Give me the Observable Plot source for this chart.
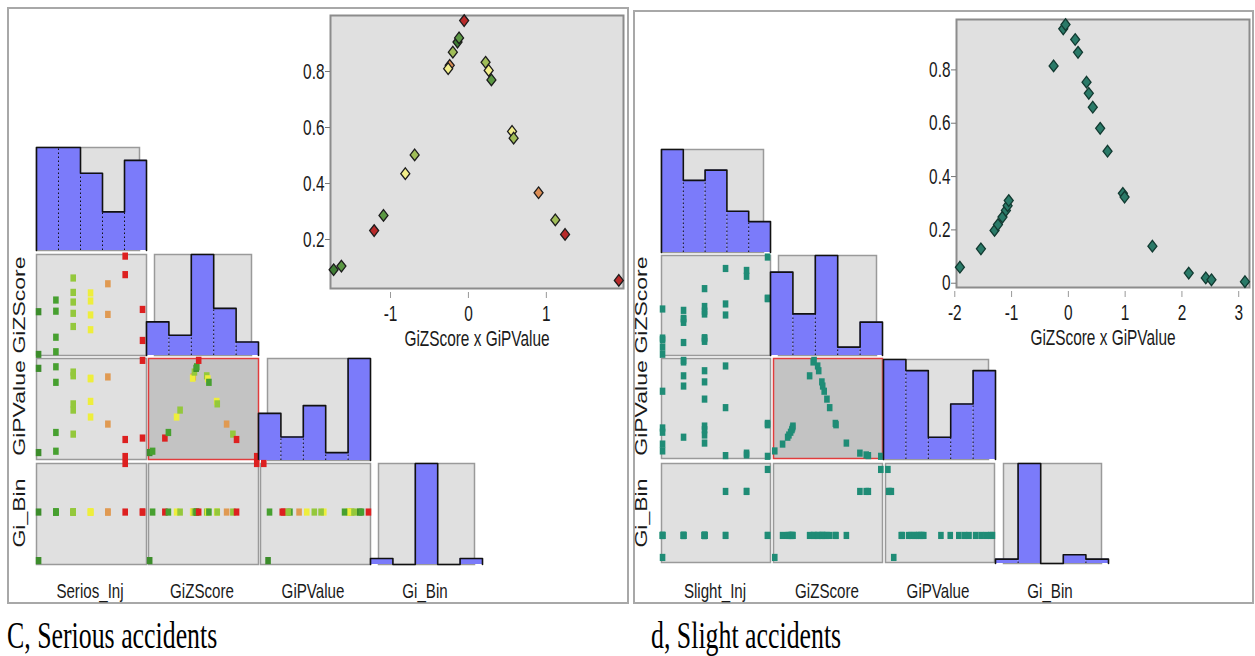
<!DOCTYPE html>
<html><head><meta charset="utf-8">
<script src="https://cdn.jsdelivr.net/npm/d3@7"></script>
<script src="https://cdn.jsdelivr.net/npm/@observablehq/plot@0.6"></script>
<style>
body{margin:0;background:#fff;overflow:hidden;}
#root{position:relative;width:1255px;height:656px;overflow:hidden;font-family:"Liberation Sans",Arial,sans-serif;background:#fff;}
.panel{position:absolute;border:2px solid #a8a8a8;box-sizing:border-box;}
.lab{position:absolute;white-space:nowrap;color:#1a1a1a;line-height:1;font-family:"Liberation Sans",Arial,sans-serif;}
.cap{position:absolute;white-space:nowrap;font-family:"Liberation Serif","Times New Roman",serif;font-size:38px;line-height:38px;transform-origin:0 0;transform:scaleX(0.68);color:#000;}
</style></head><body><div id="root"></div>
<script>
// ---------- DATA: panel C, serious accidents ----------
const seriousZ   = [-1.73,-1.63,-1.21,-1.09,-0.81,-0.69,-0.24,-0.26,-0.20,-0.14,-0.12,0.22,0.26,0.295,0.56,0.58,0.90,1.115,1.24,1.93,-0.055];
const seriousP   = [0.092,0.105,0.232,0.286,0.435,0.502,0.822,0.810,0.869,0.905,0.920,0.833,0.804,0.770,0.586,0.562,0.367,0.270,0.218,0.054,0.982];
const seriousInj = [0,1,6,1,3,2,4,3,2,0,1,2,3,1,3,2,4,2,5,5,6];
const seriousBin = [-1,0,0,0,0,0,0,0,0,0,0,0,0,0,0,0,0,0,0,1,0];
const seriousHistInj = [8,8,6,3,7];
const seriousHistZ   = [5,3,15,7,2];
const seriousHistP   = [6,3,7,1,13];
const seriousHistBin = [1,0,17,0,1];

// ---------- DATA: panel d, slight accidents ----------
const slightZ   = [-1.91,-1.54,-1.30,-1.24,-1.16,-1.10,-1.07,-1.05,-0.26,-0.09,-0.05,0.12,0.17,0.32,0.36,0.43,0.56,0.69,0.96,0.99,1.48,2.12,2.42,2.52,3.11];
const slightP   = [0.060,0.129,0.198,0.220,0.248,0.273,0.291,0.310,0.815,0.954,0.970,0.914,0.866,0.754,0.712,0.660,0.581,0.495,0.337,0.323,0.139,0.038,0.020,0.013,0.006];
const slightInj = [0,0,1,2,0,2,0,2,1,1,1,3,2,2,1,0,2,3,5,5,2,4,4,3,5];
const slightBin = [-1,0,0,0,0,0,0,0,0,0,0,0,0,0,0,0,0,0,0,0,0,2,2,2,3];
const slightHistInj = [10,7,8,4,3];
const slightHistZ   = [10,5,12,1,4];
const slightHistP   = [9,8,2,5,8];
const slightHistBin = [1,23,0,2,1];

const varLabelsC = ["Serios_Inj","GiZScore","GiPValue","Gi_Bin"];
const varLabelsD = ["Slight_Inj","GiZScore","GiPValue","Gi_Bin"];
const scatterTitle = "GiZScore x GiPValue";
const captionC = "C, Serious accidents";
const captionD = "d, Slight accidents";

// colours by injury-count level (panel C)
const squareColors  = ["#3d8d2c","#47a030","#94c83c","#eeee3c","#e09a52","#dd2020","#dd2020"];
const diamondColors = ["#3f7d34","#5b9843","#a0bd58","#f2ee8a","#dc8e56","#b82a2a","#b82a2a"];
const tealSquare = "#1f8c76", tealDiamond = "#2a7a68";

const serious = seriousZ.map((z,i)=>({z, p:seriousP[i], inj:seriousInj[i], bin:seriousBin[i]}));
const slight  = slightZ.map((z,i)=>({z, p:slightP[i], inj:slightInj[i], bin:slightBin[i]}));

// custom marker shapes (tall diamond, tall square)
const tallDiamond = {draw(ctx){ctx.moveTo(0,-5.8);ctx.lineTo(4.5,0);ctx.lineTo(0,5.8);ctx.lineTo(-4.5,0);ctx.closePath();}};
const tallSquare  = {draw(ctx){ctx.rect(-2.8,-3.6,5.6,7.2);}};

const SQ = 0.72;
const root = document.getElementById("root");
function put(node, left, top){node.style.position="absolute";node.style.left=left+"px";node.style.top=top+"px";root.appendChild(node);return node;}
function panel(l,t,w,h){const d=document.createElement("div");d.className="panel";d.style.left=l+"px";d.style.top=t+"px";d.style.width=w+"px";d.style.height=h+"px";root.appendChild(d);}

const PAD = 6;
function scatterCell(data, xk, yk, xDom, yDom, fillFn, box, highlight){
  const [x0,y0,x1,y1] = box;
  const svg = Plot.plot({
    width:x1-x0+2*PAD, height:y1-y0+2*PAD, margin:PAD,
    x:{domain:xDom, axis:null}, y:{domain:yDom, axis:null}, color:{type:"identity"},
    style:{background:"transparent", overflow:"visible"},
    marks:[
      Plot.frame({fill: highlight ? "#c3c3c3" : "#e0e0e0", stroke: highlight ? "#e03c3c" : "#9a9a9a", strokeWidth:1.5}),
      Plot.dot(data,{x:xk, y:yk, symbol:tallSquare, fill:fillFn})
    ]
  });
  put(svg, x0-PAD, y0-PAD);
}
function histCell(counts, box, insetL, insetR){
  const [x0,y0,x1,y1] = box;
  const n = counts.length, max = d3.max(counts);
  const bins = counts.map((c,i)=>({i, c}));
  const outline = [{x:0,y:0}, ...counts.flatMap((c,i)=>[{x:i,y:c},{x:i+1,y:c}]), {x:n,y:0}];
  const seps = d3.range(1,n).map(i=>({x:i, y:Math.min(counts[i-1],counts[i])})).filter(d=>d.y>0);
  const svg = Plot.plot({
    width:x1-x0+2*PAD, height:y1-y0+2*PAD, margin:PAD,
    x:{domain:[0,n], axis:null}, y:{domain:[0,max], axis:null},
    style:{background:"transparent", overflow:"visible"},
    marks:[
      Plot.frame({fill:"#e0e0e0", stroke:"#9a9a9a", strokeWidth:1.5, insetLeft:insetL, insetRight:insetR}),
      Plot.rectY(bins,{x1:"i", x2:d=>d.i+1, y:"c", fill:"#7b7bfa", inset:0}),
      Plot.ruleX(seps,{x:"x", y1:0, y2:"y", stroke:"#111", strokeDasharray:"1.5,2.5", strokeWidth:1}),
      Plot.line(outline,{x:"x", y:"y", stroke:"#111", strokeWidth:1.6})
    ]
  });
  put(svg, x0-PAD, y0-PAD);
}
function bigScatter(data, box, xDom, yDom, xTicks, yTicks, fillFn, strokeCol){
  const [x0,y0,x1,y1] = box;
  const ML=44, MT=6, MR=8, MB=70;
  const svg = Plot.plot({
    width:x1-x0+ML+MR, height:y1-y0+MT+MB, marginLeft:ML, marginTop:MT, marginRight:MR, marginBottom:MB,
    x:{domain:xDom}, y:{domain:yDom}, color:{type:"identity"},
    style:{background:"transparent", overflow:"visible", fontFamily:"Liberation Sans, Arial, sans-serif", fontSize:"22px", color:"#1a1a1a"},
    marks:[
      Plot.frame({fill:"#e0e0e0", stroke:"#8c8c8c", strokeWidth:2}),
      Plot.dot(data,{x:"z", y:"p", symbol:tallDiamond, fill:fillFn, stroke:strokeCol, strokeWidth:1.3}),
      Plot.axisY({ticks:yTicks, tickSize:5, tickPadding:1, fontSize:22, tickFormat:d=>String(d), stroke:"#777", fill:"#1a1a1a", label:null}),
      Plot.axisX({ticks:xTicks, tickSize:6, tickPadding:7, dy:4, fontSize:22, tickFormat:d=>String(d), stroke:"#999", fill:"#1a1a1a", label:null}),
      Plot.text([scatterTitle],{text:d=>d, frameAnchor:"bottom", dy:57, fontSize:22, fill:"#1a1a1a"})
    ]
  });
  svg.dataset.sq = "0.7";
  put(svg, x0-ML, y0-MT);
}
function hLabel(t, cx, cy, size){const d=document.createElement("div");d.className="lab";d.textContent=t;d.style.fontSize=size+"px";d.style.left=cx+"px";d.style.top=cy+"px";d.style.transform=`translate(-50%,-50%) scaleX(${SQ})`;root.appendChild(d);}
function vLabel(t, cx, cy, size){const d=document.createElement("div");d.className="lab";d.textContent=t;d.style.fontSize=size+"px";d.style.left=cx+"px";d.style.top=cy+"px";d.style.transform=`translate(-50%,-50%) rotate(-90deg) scaleY(${SQ})`;root.appendChild(d);}
function caption(t, l, top){const d=document.createElement("div");d.className="cap";d.textContent=t;d.style.left=l+"px";d.style.top=top+"px";root.appendChild(d);}

// frames
panel(7,7,622,597);
panel(633,10,621,594);

// ---------- Panel C ----------
{
  const zD=[-1.77,1.99], pD=[0.025,1.0], iD=[-0.12,6.23], bD=[-1.08,1];
  const sq = d=>squareColors[d.inj];
  bigScatter(serious,[330,15,623,288],zD,pD,[-1,0,1],[0.2,0.4,0.6,0.8],d=>diamondColors[d.inj],"#1c1c1c");
  histCell(seriousHistInj,[36,147,146,250],0,7);
  scatterCell(serious,"inj","z",iD,zD,sq,[36,254,146,355],false);
  histCell(seriousHistZ,[146,254,258,355],8,7);
  scatterCell(serious,"inj","p",iD,pD,sq,[36,358,146,459],false);
  scatterCell(serious,"z","p",zD,pD,sq,[148,358,258,459],true);
  histCell(seriousHistP,[258,358,370,460],9,1);
  scatterCell(serious,"inj","bin",iD,bD,sq,[36,463,146,564],false);
  scatterCell(serious,"z","bin",zD,bD,sq,[148,463,258,564],false);
  scatterCell(serious,"p","bin",pD,bD,sq,[260,463,370,564],false);
  histCell(seriousHistBin,[370,463,482,564],8,8);
  [90,202,313,425].forEach((x,i)=>hLabel(varLabelsC[i],x,590,21));
  [305,408,513].forEach((y,i)=>vLabel(varLabelsC[i+1],20,y,23));
  caption(captionC,7,616);
}
// ---------- Panel d ----------
{
  const zD=[-1.97,3.19], pD=[-0.016,0.989], iD=[-0.05,5.14], bD=[-1.23,3.27];
  const sq = ()=>tealSquare;
  bigScatter(slight,[956,19,1249,287],zD,pD,[-2,-1,0,1,2,3],[0,0.2,0.4,0.6,0.8],()=>tealDiamond,"#123a31");
  histCell(slightHistInj,[661,149,770,252],0,7);
  scatterCell(slight,"inj","z",iD,zD,sq,[661,255,770,355],false);
  histCell(slightHistZ,[770,255,882,355],8,6);
  scatterCell(slight,"inj","p",iD,pD,sq,[661,358,770,458],false);
  scatterCell(slight,"z","p",zD,pD,sq,[773,358,882,458],true);
  histCell(slightHistP,[883,359,995,459],0,7);
  scatterCell(slight,"inj","bin",iD,bD,sq,[661,463,770,562],false);
  scatterCell(slight,"z","bin",zD,bD,sq,[773,463,882,562],false);
  scatterCell(slight,"p","bin",pD,bD,sq,[885,463,994,562],false);
  histCell(slightHistBin,[995,463,1108,563],8,7);
  [715,827,938,1050].forEach((x,i)=>hLabel(varLabelsD[i],x,590,21));
  [305,408,513].forEach((y,i)=>vLabel(varLabelsD[i+1],642,y,23));
  caption(captionD,651,616);
}
// horizontal squeeze of SVG text to match the condensed lettering
root.querySelectorAll("svg").forEach(svg=>{
  const k = +(svg.dataset.sq || SQ);
  svg.querySelectorAll("text").forEach(t=>{const L=t.getComputedTextLength(); if(L>0){t.setAttribute("textLength",(L*k).toFixed(1)); t.setAttribute("lengthAdjust","spacingAndGlyphs");}});
});
</script></body></html>
